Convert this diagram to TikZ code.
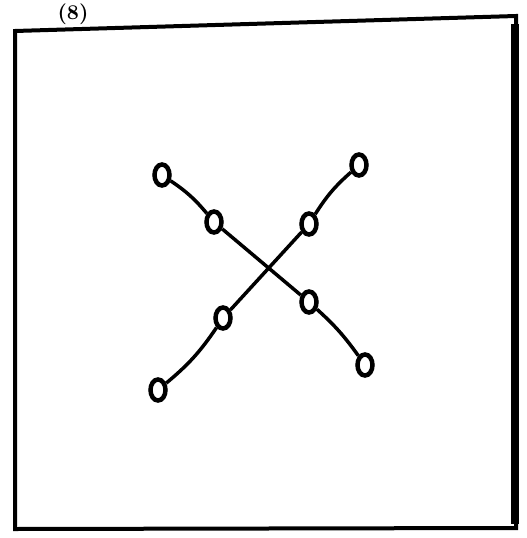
\documentclass[tikz,border=0pt]{standalone}
\usepackage{tikz}
\usetikzlibrary{shapes.geometric,calc}

\begin{document}
\begin{tikzpicture}[
  x=1pt, y=-1pt,
  bead/.style={ellipse, draw=black, line width=4.5pt, minimum width=15pt, minimum height=21pt, inner sep=0pt},
  rod/.style={line width=3.5pt},
  frame/.style={line width=4pt, line join=miter},
]
\useasboundingbox (0,0) rectangle (527,538);

% --- frame ---
\coordinate (tl) at (15,31);
\coordinate (tr) at (516,16);
\coordinate (br) at (516,528);
\coordinate (bl) at (15,529);
\draw[frame] (tl) -- (tr) -- (br) -- (bl) -- cycle;
\draw[line width=8pt] ($(tr)+(-1,8)$) -- ($(br)+(-1,-4)$);
\node[font=\bfseries, inner sep=0pt, scale=2.1, transform shape] (lbl) at (73,14) {(8)};

% --- beads on the two rods ---
\node[bead] (a1) at (162,175) {};
\node[bead] (a2) at (214,222) {};
\node[bead] (a3) at (309,302) {};
\node[bead] (a4) at (365,365) {};
\node[bead] (b1) at (359,165) {};
\node[bead] (b2) at (309,224) {};
\node[bead] (b3) at (223,318) {};
\node[bead] (b4) at (158,390) {};

% rods
\draw[rod] (a1) to[bend left=8] (a2);
\draw[rod] (a2) -- (a3);
\draw[rod] (a3) to[bend left=6] (a4);
\draw[rod] (b1) to[bend right=8] (b2);
\draw[rod] (b2) -- (b3);
\draw[rod] (b3) to[bend left=8] (b4);

\end{tikzpicture}
\end{document}
